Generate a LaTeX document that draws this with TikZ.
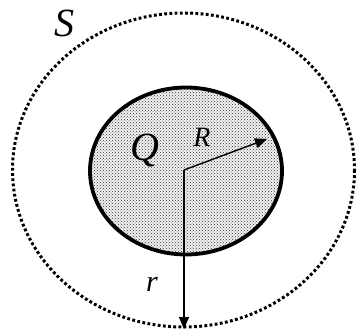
\documentclass[tikz,border=0pt]{standalone}
\usepackage{fontspec}
\setmainfont{Liberation Serif}
\usetikzlibrary{arrows.meta,patterns}

\begin{document}
\begin{tikzpicture}[x=1pt,y=-1pt,>={Triangle[length=12pt,width=10pt]},line cap=butt,line join=miter]

% Geometry (pixels of the figure, y grows downwards)
\def\outerrx{171}   % Gaussian surface, horizontal half-axis
\def\outerry{157}   % Gaussian surface, vertical half-axis
\def\innerrx{96}    % charged ball, horizontal half-axis
\def\innerry{83.5}  % charged ball, vertical half-axis

\tikzset{
  surface/.style={line width=3pt,dash pattern=on 2.8pt off 2.4pt},
  ball/.style={line width=3.8pt,pattern=crosshatch dots,pattern color=black!80},
  lbl/.style={inner sep=0pt}
}

% Frame
\useasboundingbox (0,0) rectangle (363,334);

\coordinate (O) at (184,170);
\coordinate (TipR) at (267,139);
\coordinate (TipS) at (184,329);

% Charged ball
\fill[black!5] (186,171) ellipse[x radius=\innerrx,y radius=\innerry];
\draw[ball] (186,171) ellipse[x radius=\innerrx,y radius=\innerry];

% Gaussian surface
\draw[surface] (183.5,170) ellipse[x radius=\outerrx,y radius=\outerry];

% ---- RADII ----
\draw[->,line width=1.4pt] (O) -- (TipR);
\draw[->,line width=1.4pt] (O) -- (TipS);

% Labels
\node[lbl,font=\fontsize{40}{40}\selectfont\itshape] (labS) at (64,23) {S};
\node[lbl,font=\fontsize{40}{40}\selectfont\itshape] (labQ) at (145,150) {Q};
\node[lbl,font=\fontsize{28}{28}\selectfont\itshape] (labR) at (202,137) {R};
\node[lbl,font=\fontsize{30}{30}\selectfont\itshape] (labr) at (152,284) {r};

\end{tikzpicture}
\end{document}
